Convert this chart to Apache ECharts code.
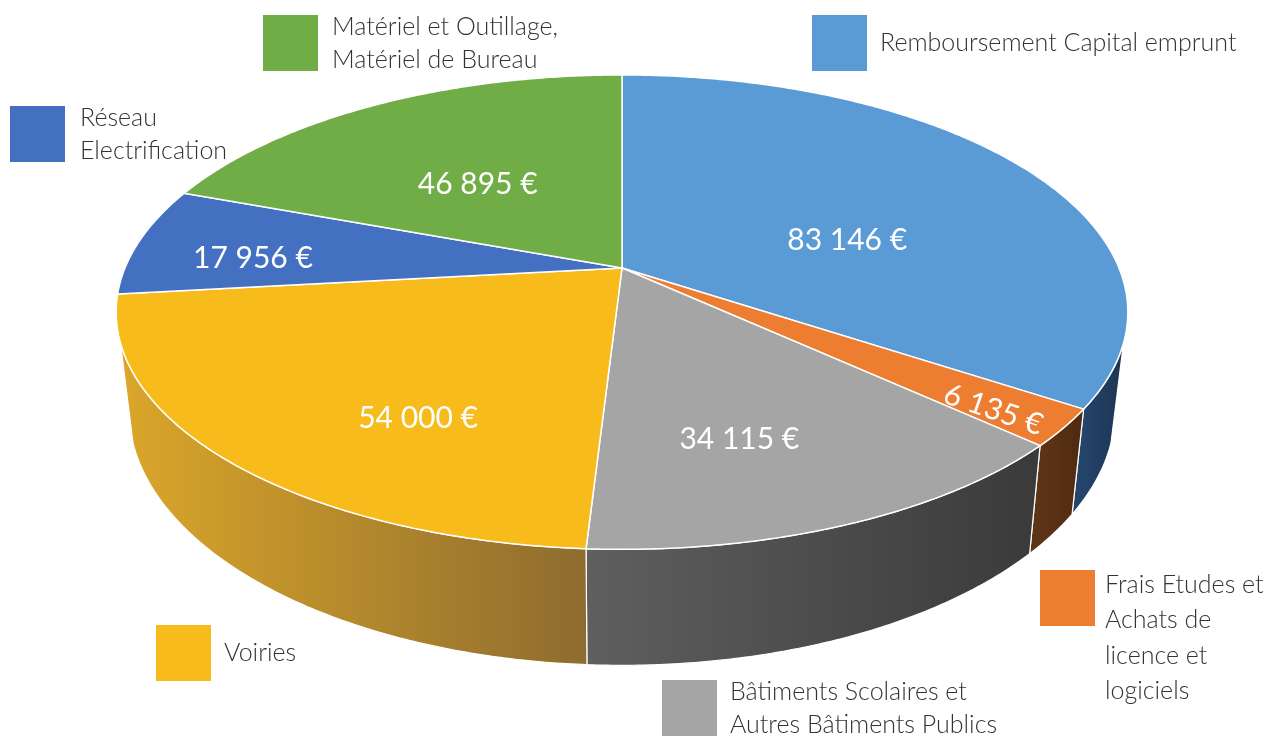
<!DOCTYPE html>
<html>
<head>
<meta charset="utf-8">
<script src="https://cdn.jsdelivr.net/npm/echarts@6/dist/echarts.min.js"></script>
<style>
  html, body { margin: 0; padding: 0; background: #fff; }
  #chart { width: 1269px; height: 739px; }
</style>
</head>
<body>
<div id="chart"></div>
<script>
// données
const categories = [
  'Remboursement Capital emprunt',
  'Frais Etudes et Achats de licence et logiciels',
  'Bâtiments Scolaires et Autres Bâtiments Publics',
  'Voiries',
  'Réseau Electrification',
  'Matériel et Outillage, Matériel de Bureau'
];
const amounts = [83146, 6135, 34115, 54000, 17956, 46895];

// styles
const topColors = ['#5b9bd5', '#ed7d31', '#a5a5a5', '#f7bb1b', '#4470c2', '#70ad47'];
const sideColors = [
  ['#24446a', '#1c3552'],
  ['#5e3416', '#4f2a10'],
  ['#5f5f5f', '#3a3a3a'],
  ['#dba62a', '#8e6c2f'],
  ['#2e4f8a', '#24406f'],
  ['#4d7a31', '#3c6126']
];
const legendText = [
  'Remboursement Capital emprunt',
  '{g| }\nFrais Etudes et\nAchats de\nlicence et\nlogiciels',
  'Bâtiments Scolaires et\nAutres Bâtiments Publics',
  'Voiries',
  'Réseau\nElectrification',
  'Matériel et Outillage,\nMatériel de Bureau'
];
// legend placement: left, top, line height, left padding
const legendSpots = [
  [812, 15, 33, 8],
  [1040, 487, 35.5, 5],
  [662, 675, 33, 8],
  [156, 625, 33, 8],
  [10, 101, 33, 10],
  [263, 10, 33, 9]
];
// label placement: angle shift (deg) from slice middle, radius fraction, rotation (deg)
const labelPlace = [
  [13.2, 0.48, 0],
  [1.5, 0.87, -19],
  [4.5, 0.69, 0],
  [-11.5, 0.69, 0],
  [-3.6, 0.75, 0],
  [-3.7, 0.50, 0]
];

// pseudo 3D projection
const CX = 622, CY = 268, SX = 497, SY = 229, P = 0.186, DEPTH = 94.4, K = 0.975;
const SIDE_FROM = 108 * Math.PI / 180, SIDE_TO = 252 * Math.PI / 180;
const FONT = 'Lato, "Open Sans", sans-serif';

const proj = (a, f, drop) => {
  const u = f * Math.sin(a), v = -f * Math.cos(a);
  const w = 1 - P * v;
  let x = CX + SX * u / w, y = CY + SY * v / w;
  if (drop) {
    x = CX + (x - CX) * K;
    y += DEPTH / w;
  }
  return [x, y];
};
const arc = (a0, a1, drop) => {
  const n = Math.max(2, Math.ceil((a1 - a0) / (Math.PI / 360)));
  const pts = [];
  for (let k = 0; k <= n; k++) pts.push(proj(a0 + (a1 - a0) * k / n, 1, drop));
  return pts;
};
const fmt = (v) => String(v).replace(/\B(?=(\d{3})+(?!\d))/g, ' ') + ' €';

const total = amounts.reduce((s, v) => s + v, 0);

const makeRender = (i) => (params, api) => {
  const before = amounts.slice(0, i).reduce((s, v) => s + v, 0);
  const a0 = before / total * 2 * Math.PI;
  const a1 = (before + api.value(0)) / total * 2 * Math.PI;
  const children = [];

  const s = Math.max(a0, SIDE_FROM), e = Math.min(a1, SIDE_TO);
  if (e > s) {
    const topArc = arc(s, e, false);
    const botArc = arc(s, e, true).reverse();
    const xs = topArc.map((p) => p[0]);
    children.push({
      type: 'polygon',
      z2: 1,
      shape: { points: topArc.concat(botArc) },
      style: {
        fill: new echarts.graphic.LinearGradient(Math.min(...xs), 0, Math.max(...xs), 0, [
          { offset: 0, color: sideColors[i][0] },
          { offset: 1, color: sideColors[i][1] }
        ], true),
        stroke: '#fff',
        lineWidth: 1.2,
        lineJoin: 'round'
      }
    });
  }

  children.push({
    type: 'polygon',
    z2: 2,
    shape: { points: [[CX, CY]].concat(arc(a0, a1, false)) },
    style: { fill: topColors[i], stroke: '#fff', lineWidth: 1.5, lineJoin: 'round' }
  });

  const lp = labelPlace[i];
  const am = (a0 + a1) / 2 + lp[0] * Math.PI / 180;
  const pos = proj(am, lp[1], false);
  children.push({
    type: 'text',
    z2: 3,
    x: pos[0],
    y: pos[1],
    rotation: lp[2] * Math.PI / 180,
    style: {
      text: fmt(api.value(0)),
      fill: '#fff',
      fontSize: 30,
      fontFamily: FONT,
      align: 'center',
      verticalAlign: 'middle'
    }
  });
  return { type: 'group', children };
};

const chart = echarts.init(document.getElementById('chart'));
chart.setOption({
  animation: false,
  backgroundColor: '#fff',
  legend: categories.map((name, i) => ({
    data: [name],
    left: legendSpots[i][0],
    top: legendSpots[i][1],
    padding: 0,
    icon: 'rect',
    itemWidth: 55,
    itemHeight: 56,
    selectedMode: false,
    formatter: () => legendText[i],
    textStyle: {
      fontSize: 25,
      fontWeight: 300,
      fontFamily: FONT,
      color: '#333',
      lineHeight: legendSpots[i][2],
      padding: [0, 0, 0, legendSpots[i][3]],
      rich: { g: { lineHeight: 80, fontSize: 2 } }
    }
  })),
  series: categories.map((name, i) => ({
    type: 'custom',
    name: name,
    coordinateSystem: 'none',
    itemStyle: { color: topColors[i] },
    data: [[amounts[i]]],
    renderItem: makeRender(i)
  }))
});
</script>
</body>
</html>
